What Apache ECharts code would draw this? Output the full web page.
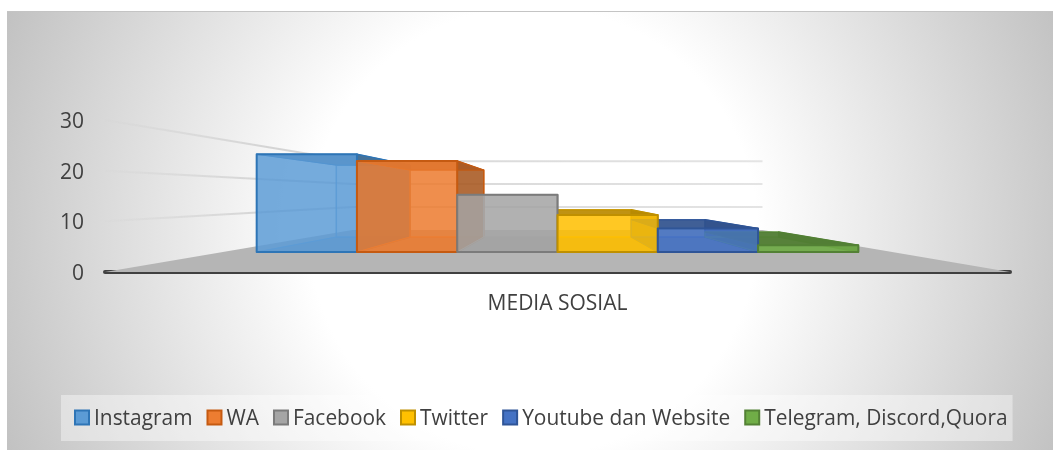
<!DOCTYPE html>
<html>
<head>
<meta charset="utf-8">
<style>
  html, body { margin: 0; padding: 0; background: #fff; overflow: hidden; }
  #panel {
    position: absolute; left: 7px; top: 11px; width: 1046px; height: 438px;
    border-top: 1px solid #c4c4c4;
    background: radial-gradient(circle 590px at 526px 219px, #fff 0%, #fff 38%, #bebebe 100%);
  }
  #chart { position: absolute; left: 0; top: 0; width: 1053px; height: 450px; }
</style>
</head>
<body>
<div id="panel"></div>
<div id="chart"></div>
<script src="https://cdn.jsdelivr.net/npm/echarts@6/dist/echarts.min.js"></script>
<script>
const categories = ['MEDIA SOSIAL']
const seriesNames = ['Instagram', 'WA', 'Facebook', 'Twitter', 'Youtube dan Website', 'Telegram, Discord,Quora']
const seriesValues = [29, 27, 17, 11, 7, 2]
const fills = ['#5B9BD5', '#ED7D31', '#A5A5A5', '#FFC000', '#4472C4', '#70AD47']
const edges = ['#2E75B6', '#C55A11', '#7B7B7B', '#BF9000', '#2F5597', '#538135']
const yTicks = [10, 20, 30]

// depth layout, all relative to the grid: 1 = front of the floor
const FLOOR_BACK = 0.453
const BAR_FRONT = 0.665
const BAR_BACK = 0.489
const BAR_SLOT = 0.1108

const font = '"Open Sans", "Noto Sans", sans-serif'

function shade(hex, k, alpha) {
  const n = parseInt(hex.slice(1), 16)
  const r = Math.round((n >> 16) * k)
  const g = Math.round(((n >> 8) & 255) * k)
  const b = Math.round((n & 255) * k)
  return 'rgba(' + r + ',' + g + ',' + b + ',' + alpha + ')'
}

function baseInfo(params, api) {
  const cs = params.coordSys
  return { cx: cs.x + cs.width / 2, halfW: cs.width / 2, y0: api.coord([0, 0])[1] }
}

function polygon(points, fill, stroke, width, z2) {
  return {
    type: 'polygon',
    z2: z2 || 0,
    shape: { points },
    style: { fill, stroke: stroke || 'none', lineWidth: width || 0, lineJoin: 'round' }
  }
}

// floor and the gridlines on the left and back walls
function renderRoom(params, api) {
  const b = baseInfo(params, api)
  const backY = b.y0 - 42
  const backL = b.cx - b.halfW * FLOOR_BACK
  const backR = b.cx + b.halfW * FLOOR_BACK
  const children = [
    polygon([[b.cx - b.halfW, b.y0], [backL, backY], [backR, backY], [b.cx + b.halfW, b.y0]], '#b5b5b5')
  ]
  yTicks.forEach(t => {
    const h = b.y0 - api.coord([0, t])[1]
    const y = backY - h * FLOOR_BACK
    children.push({
      type: 'polyline',
      shape: { points: [[b.cx - b.halfW, b.y0 - h], [backL, y], [backR, y]] },
      style: {
        fill: 'none',
        lineWidth: 2,
        stroke: {
          type: 'linear', x: 0, y: 0, x2: 1, y2: 0,
          colorStops: [{ offset: 0, color: 'rgba(200,200,200,0)' }, { offset: 0.25, color: '#d4d4d4' }, { offset: 1, color: '#e4e4e4' }]
        }
      }
    })
  })
  return { type: 'group', children }
}

function renderBar(params, api) {
  const i = params.seriesIndex - 1
  const b = baseInfo(params, api)
  const h = b.y0 - api.coord([0, api.value(1)])[1]
  const slot = b.halfW * 2 * BAR_SLOT
  const left = (i - 3) * slot
  const right = (i - 2) * slot
  const yF = b.y0 - 20
  const yB = b.y0 - 35
  const rB = BAR_BACK / BAR_FRONT
  const hF = h * BAR_FRONT
  const hB = hF * rB

  const fl = [b.cx + left, yF], fr = [b.cx + right, yF]
  const tl = [b.cx + left, yF - hF], tr = [b.cx + right, yF - hF]
  const bl = [b.cx + left * rB, yB], br = [b.cx + right * rB, yB]
  const ul = [b.cx + left * rB, yB - hB], ur = [b.cx + right * rB, yB - hB]

  const fill = fills[i]
  const edge = edges[i]
  const thin = shade(fill, 1, 0.7)
  // every bar's rear faces go under all the front faces
  return {
    type: 'group',
    children: [
      polygon([bl, br, ur, ul], shade(fill, 1, 0.25), thin, 1.5, 1),
      polygon([fl, fr, br, bl], shade(fill, 0.85, 0.5), thin, 1, 1),
      polygon([fl, tl, ul, bl], shade(fill, 1, 0.15), thin, 1, 1),
      polygon([fr, tr, ur, br], shade(fill, 0.7, 0.85), edge, 1.5, 1),
      polygon([tl, tr, ur, ul], shade(fill, 0.72, 0.9), edge, 1, 1),
      polygon([fl, fr, tr, tl], shade(fill, 1, 0.82), edge, 2, 2)
    ]
  }
}

const series = [{
  name: 'room',
  type: 'custom',
  silent: true,
  renderItem: renderRoom,
  encode: { x: 0, y: 1 },
  data: [[0, 0]]
}]
seriesNames.forEach((name, i) => {
  series.push({
    name,
    type: 'custom',
    renderItem: renderBar,
    encode: { x: 0, y: 1 },
    itemStyle: { color: fills[i], borderColor: edges[i], borderWidth: 2 },
    data: [[0, seriesValues[i]]]
  })
})

const chart = echarts.init(document.getElementById('chart'))
chart.setOption({
  animation: false,
  backgroundColor: 'transparent',
  grid: { left: 105, right: 43, top: 120, bottom: 178 },
  legend: {
    data: seriesNames,
    left: 61,
    top: 395,
    icon: 'rect',
    itemWidth: 14,
    itemHeight: 14,
    itemGap: 14,
    padding: [14, 5, 11, 13],
    backgroundColor: 'rgba(255,255,255,0.4)',
    formatter: name => '{a|' + name + '}',
    textStyle: {
      rich: { a: { fontFamily: font, fontSize: 20.9, color: '#404040', padding: [4, 0, 0, 0] } }
    }
  },
  xAxis: {
    type: 'category',
    data: categories,
    axisLine: { lineStyle: { color: '#404040', width: 4, cap: 'round' } },
    axisTick: { show: false },
    axisLabel: { fontFamily: font, fontSize: 21, color: '#404040', margin: 22 }
  },
  yAxis: {
    type: 'value',
    min: 0,
    max: 30,
    interval: 10,
    axisLine: { show: false },
    axisTick: { show: false },
    splitLine: { show: false },
    axisLabel: {
      margin: 21,
      formatter: '{a|{value}}',
      rich: { a: { fontFamily: font, fontSize: 21, color: '#404040', padding: [4, 0, 0, 0] } }
    }
  },
  series
})
</script>
</body>
</html>
